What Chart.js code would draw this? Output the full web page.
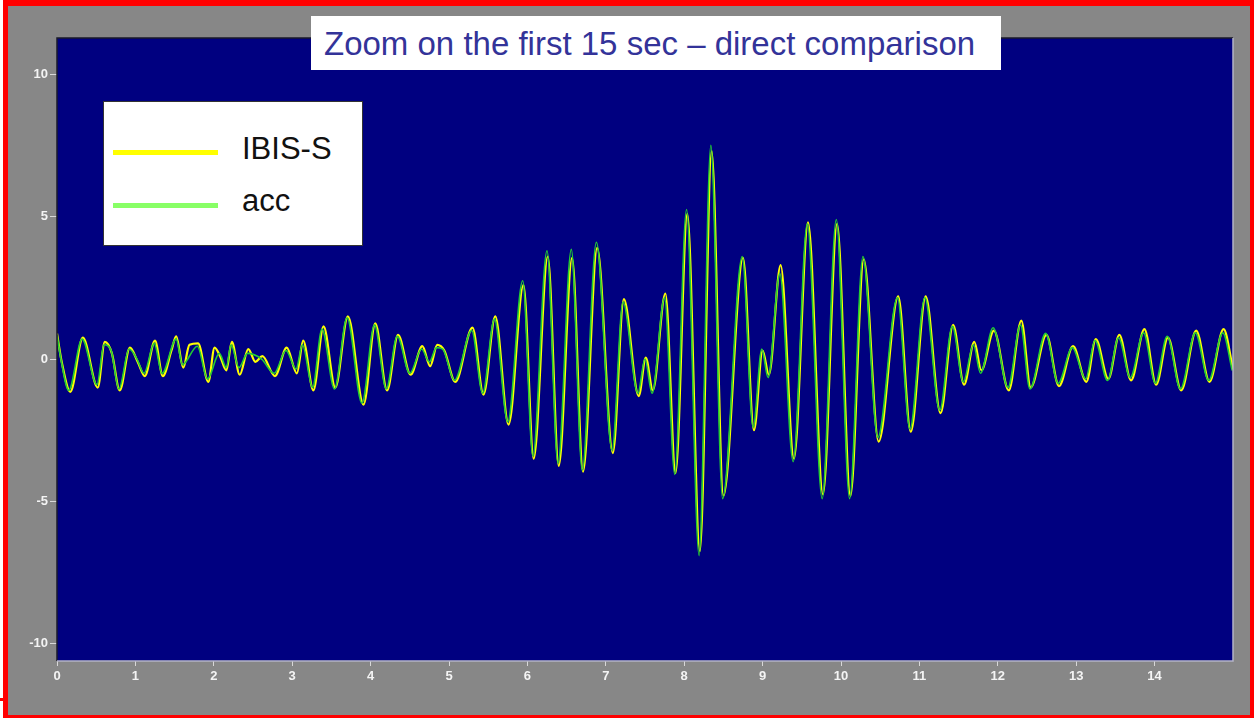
<!DOCTYPE html>
<html>
<head>
<meta charset="utf-8">
<script src="https://cdn.jsdelivr.net/npm/chart.js@4.4.1/dist/chart.umd.min.js"></script>
<style>
    html, body { margin: 0; padding: 0; background: #ffffff; }
    body { width: 1254px; height: 718px; position: relative; overflow: hidden; font-family: "Liberation Sans", Arial, sans-serif; }
    #frame {
        position: absolute; left: 3px; top: 0; width: 1242px; height: 709px;
        background: #878787;
        border-left: 5px solid #ff0000; border-top: 6px solid #ff0000;
        border-right: 4px solid #ff0000; border-bottom: 3px solid #ff0000;
    }
    #mark { position: absolute; left: 0; top: 698px; width: 8px; height: 3px; background: #ff0000; }
    #plot { position: absolute; left: 0; top: 0; }
    #title {
        position: absolute; left: 311px; top: 16px; width: 690px; height: 54px;
        background: #ffffff;
    }
    #title span {
        position: absolute; left: 13px; top: 11px; white-space: nowrap;
        font-size: 33px; line-height: 33px; color: #333399;
    }
    #legend {
        position: absolute; left: 103px; top: 101px; width: 258px; height: 143px;
        background: #ffffff; border: 1px solid #333333;
    }
    .swatch { position: absolute; height: 5px; }
    .label { position: absolute; font-size: 31px; line-height: 31px; color: #111111; white-space: nowrap; }
</style>
</head>
<body>
<div id="frame"></div>
<div id="mark"></div>
<canvas id="plot" width="1254" height="718"></canvas>
<div id="title"><span>Zoom on the first 15 sec – direct comparison</span></div>
<div id="legend"></div>
<script>
const seriesNames = ["IBIS-S", "acc"];
const lineColors = ["#ffff00", "#22cc33"];
const legendColors = ["#ffff00", "#88ff66"];

const xTickValues = [0, 1, 2, 3, 4, 5, 6, 7, 8, 9, 10, 11, 12, 13, 14];
const yTickValues = [-10, -5, 0, 5, 10];

// accelerometer trace (s, value)
const accTimes = [
    0.00, 0.05, 0.15, 0.32, 0.51, 0.60, 0.69, 0.79, 0.92, 1.02,
    1.11, 1.24, 1.34, 1.52, 1.60, 1.79, 1.92, 2.07, 2.16, 2.22,
    2.32, 2.43, 2.61, 2.77, 2.92, 3.05, 3.13, 3.26, 3.38, 3.54,
    3.70, 3.89, 4.05, 4.20, 4.34, 4.50, 4.65, 4.75, 4.84, 4.92,
    5.07, 5.29, 5.43, 5.58, 5.75, 5.94, 6.07, 6.25, 6.39, 6.56,
    6.70, 6.88, 7.08, 7.22, 7.41, 7.50, 7.59, 7.75, 7.88, 8.03,
    8.19, 8.34, 8.49, 8.74, 8.88, 8.99, 9.07, 9.22, 9.39, 9.57,
    9.76, 9.94, 10.11, 10.28, 10.47, 10.72, 10.88, 11.07, 11.26, 11.42,
    11.56, 11.69, 11.78, 11.94, 12.13, 12.29, 12.41, 12.61, 12.77, 12.95,
    13.12, 13.24, 13.40, 13.54, 13.69, 13.86, 14.01, 14.16, 14.33, 14.52,
    14.69, 14.87, 14.99
];
const accValues = [
    0.85, 0.0, -1.1, 0.7, -0.9, 0.5, 0.3, -1.05, 0.35, 0.0,
    -0.5, 0.55, -0.5, 0.7, -0.2, 0.45, -0.7, 0.2, -0.3, 0.5,
    -0.3, 0.2, 0.0, -0.5, 0.3, -0.35, 0.5, -1.0, 1.05, -1.05,
    1.45, -1.55, 1.2, -1.05, 0.8, -0.5, 0.35, -0.1, 0.4, 0.35,
    -0.75, 1.0, -1.2, 1.4, -2.2, 2.75, -3.4, 3.8, -3.65, 3.85,
    -3.9, 4.1, -3.2, 2.0, -1.2, 0.0, -1.2, 2.15, -4.05, 5.25,
    -6.9, 7.5, -4.9, 3.6, -2.4, 0.35, -0.65, 3.0, -3.6, 4.75,
    -4.9, 4.9, -4.9, 3.6, -2.75, 2.15, -2.45, 2.15, -1.8, 1.15,
    -0.8, 0.5, -0.5, 1.1, -1.0, 1.2, -1.05, 0.9, -0.85, 0.4,
    -0.7, 0.65, -0.75, 0.75, -0.65, 0.92, -0.85, 0.8, -1.05, 0.92,
    -0.75, 0.92, -0.4
];

// IBIS-S trace (s, value)
const ibisTimes = [
    0.00, 0.06, 0.17, 0.33, 0.52, 0.61, 0.70, 0.80, 0.93, 1.03,
    1.12, 1.25, 1.35, 1.46, 1.52, 1.61, 1.69, 1.80, 1.93, 2.01,
    2.08, 2.16, 2.23, 2.33, 2.44, 2.53, 2.62, 2.78, 2.93, 3.06,
    3.14, 3.27, 3.40, 3.55, 3.71, 3.91, 4.06, 4.21, 4.35, 4.51,
    4.66, 4.76, 4.85, 4.94, 5.08, 5.30, 5.44, 5.59, 5.76, 5.95,
    6.08, 6.26, 6.40, 6.57, 6.71, 6.89, 7.09, 7.23, 7.42, 7.51,
    7.60, 7.76, 7.89, 8.04, 8.20, 8.35, 8.50, 8.75, 8.89, 9.00,
    9.08, 9.23, 9.40, 9.58, 9.77, 9.95, 10.12, 10.29, 10.48, 10.73,
    10.89, 11.08, 11.27, 11.43, 11.57, 11.70, 11.79, 11.95, 12.14, 12.30,
    12.42, 12.62, 12.78, 12.96, 13.13, 13.25, 13.41, 13.55, 13.70, 13.87,
    14.02, 14.17, 14.34, 14.53, 14.70, 14.88, 15.00
];
const ibisValues = [
    0.9, -0.1, -1.15, 0.75, -1.0, 0.6, 0.2, -1.1, 0.4, -0.1,
    -0.6, 0.65, -0.6, 0.3, 0.8, -0.3, 0.5, 0.55, -0.8, 0.4,
    0.1, -0.4, 0.6, -0.55, 0.35, -0.1, 0.1, -0.6, 0.4, -0.5,
    0.65, -1.1, 1.15, -1.0, 1.5, -1.6, 1.25, -1.1, 0.85, -0.55,
    0.45, -0.25, 0.5, 0.3, -0.8, 1.1, -1.25, 1.5, -2.3, 2.6,
    -3.5, 3.6, -3.75, 3.55, -3.95, 3.9, -3.3, 2.1, -1.3, 0.05,
    -1.1, 2.3, -4.0, 5.1, -6.75, 7.3, -4.8, 3.55, -2.5, 0.3,
    -0.55, 3.3, -3.5, 4.8, -4.75, 4.75, -4.8, 3.5, -2.9, 2.2,
    -2.55, 2.2, -1.9, 1.2, -0.9, 0.6, -0.4, 1.0, -1.1, 1.35,
    -1.0, 0.85, -0.95, 0.45, -0.8, 0.7, -0.7, 0.85, -0.75, 1.05,
    -0.9, 0.75, -1.1, 1.0, -0.8, 1.05, -0.35
];

function toPoints(times, values) {
    return times.map(function (t, i) {
        return { x: t, y: values[i] };
    });
}

// navy plot field with a sunken edge
const plotField = {
    id: "plotField",
    beforeDraw: function (chart) {
        const a = chart.chartArea;
        const c = chart.ctx;
        c.save();
        c.fillStyle = "#000080";
        c.fillRect(a.left, a.top, a.right - a.left, a.bottom - a.top);
        c.restore();
    },
    afterDraw: function (chart) {
        const a = chart.chartArea;
        const c = chart.ctx;
        c.save();
        c.lineWidth = 1.5;
        c.strokeStyle = "#1a1a2a";
        c.beginPath();
        c.moveTo(a.left, a.bottom);
        c.lineTo(a.left, a.top);
        c.lineTo(a.right, a.top);
        c.stroke();
        c.strokeStyle = "#b4b4c8";
        c.beginPath();
        c.moveTo(a.right, a.top);
        c.lineTo(a.right, a.bottom);
        c.lineTo(a.left, a.bottom);
        c.stroke();
        c.restore();
    }
};

document.addEventListener("DOMContentLoaded", function () {
    const ctx = document.getElementById("plot").getContext("2d");
    const tickFont = { family: "'Liberation Sans', Arial, sans-serif", size: 13, weight: "bold" };

    new Chart(ctx, {
        type: "line",
        data: {
            datasets: [
                {
                    label: seriesNames[0],
                    data: toPoints(ibisTimes, ibisValues),
                    borderColor: lineColors[0],
                    borderWidth: 2.2,
                    pointRadius: 0,
                    cubicInterpolationMode: "monotone",
                    order: 1
                },
                {
                    label: seriesNames[1],
                    data: toPoints(accTimes, accValues),
                    borderColor: lineColors[1],
                    borderWidth: 1.6,
                    pointRadius: 0,
                    cubicInterpolationMode: "monotone",
                    order: 0
                }
            ]
        },
        options: {
            responsive: false,
            animation: false,
            events: [],
            layout: {
                padding: { left: 0, top: 38, right: 21, bottom: 17 }
            },
            plugins: {
                legend: { display: false },
                title: { display: false },
                tooltip: { enabled: false }
            },
            scales: {
                x: {
                    type: "linear",
                    min: 0,
                    max: 15,
                    afterFit: function (scale) { scale.height = 40; },
                    afterBuildTicks: function (scale) {
                        scale.ticks = xTickValues.map(function (v) { return { value: v }; });
                    },
                    border: { display: false },
                    grid: { drawOnChartArea: false, drawTicks: true, tickLength: 5, color: "#d8d8d8" },
                    ticks: { color: "#f4f4f4", font: tickFont, padding: 3, maxRotation: 0 }
                },
                y: {
                    type: "linear",
                    min: -10.6,
                    max: 11.27,
                    afterFit: function (scale) { scale.width = 57; },
                    afterBuildTicks: function (scale) {
                        scale.ticks = yTickValues.map(function (v) { return { value: v }; });
                    },
                    border: { display: false },
                    grid: { drawOnChartArea: false, drawTicks: true, tickLength: 7, color: "#d8d8d8" },
                    ticks: { color: "#f4f4f4", font: tickFont, padding: 2 }
                }
            }
        },
        plugins: [plotField]
    });

    // legend box built from the series names
    const legend = document.getElementById("legend");
    seriesNames.forEach(function (name, i) {
        const swatch = document.createElement("div");
        swatch.className = "swatch";
        swatch.style.left = "9px";
        swatch.style.width = "105px";
        swatch.style.top = (48 + i * 53) + "px";
        swatch.style.background = legendColors[i];
        legend.appendChild(swatch);

        const label = document.createElement("div");
        label.className = "label";
        label.textContent = name;
        label.style.left = "138px";
        label.style.top = (31 + i * 52) + "px";
        legend.appendChild(label);
    });
});
</script>
</body>
</html>
